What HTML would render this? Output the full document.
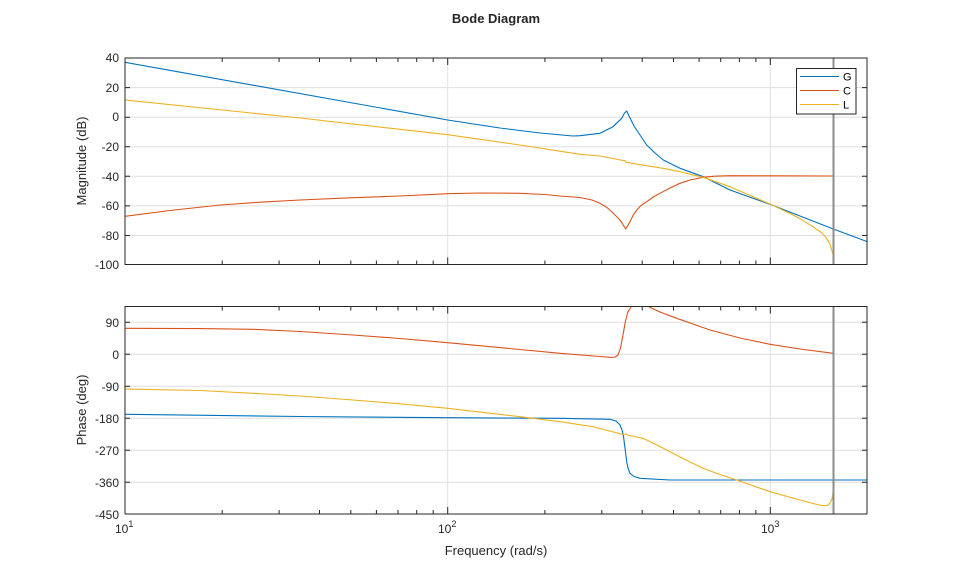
<!DOCTYPE html>
<html><head><meta charset="utf-8"><style>
html,body{margin:0;padding:0;background:#fff;}
svg{display:block;font-family:"Liberation Sans",Arial,sans-serif;}
</style></head><body>
<svg width="959" height="577" viewBox="0 0 959 577" xmlns="http://www.w3.org/2000/svg">
<defs>
<clipPath id="c1"><rect x="125" y="58" width="742" height="207"/></clipPath>
<clipPath id="c2"><rect x="125" y="306.5" width="742" height="207.5"/></clipPath>
</defs>
<rect width="959" height="577" fill="#fff"/>
<text x="496" y="23" font-size="13" font-weight="bold" text-anchor="middle" fill="#262626">Bode Diagram</text>

<g stroke="#dfdfdf" stroke-width="1">
<line x1="125" x2="867" y1="87.6" y2="87.6"/><line x1="125" x2="867" y1="117.2" y2="117.2"/>
<line x1="125" x2="867" y1="146.8" y2="146.8"/><line x1="125" x2="867" y1="176.3" y2="176.3"/>
<line x1="125" x2="867" y1="205.9" y2="205.9"/><line x1="125" x2="867" y1="235.5" y2="235.5"/>
<line x1="447.7" x2="447.7" y1="58" y2="265"/><line x1="770.3" x2="770.3" y1="58" y2="265"/>
<line x1="125" x2="867" y1="322.3" y2="322.3"/><line x1="125" x2="867" y1="354.3" y2="354.3"/>
<line x1="125" x2="867" y1="386.3" y2="386.3"/><line x1="125" x2="867" y1="418.3" y2="418.3"/>
<line x1="125" x2="867" y1="450.3" y2="450.3"/><line x1="125" x2="867" y1="482.3" y2="482.3"/>
<line x1="447.7" x2="447.7" y1="306.5" y2="514"/><line x1="770.3" x2="770.3" y1="306.5" y2="514"/>
</g>

<g clip-path="url(#c1)" fill="none" stroke-width="1.1" stroke-linejoin="round">
<polyline stroke="#0072BD" points="125,62.3 447.7,120 500,128 540,133 573,136 580,135.7 600,133.3 613,126.7 621.7,118.3 624.5,113 626.7,111 629,116 634,126 640,135 646.7,145 655,153 663.3,160 680,168.3 703.3,176.7 730,190 770,204.3 800,216 833.3,229 867.3,241.7"/>
<polyline stroke="#D95319" points="125,216.3 170,210.5 220,205 260,202.2 300,200 350,197.8 400,196 447.7,193.7 480,193 520,193.3 545,194.5 560,196 580,197.5 592,200 600,203.3 607,207.5 613,213 619,219 622,223 624.5,227 625.7,229 627,227 630,221.7 633,215.5 636.7,210 641,205.5 646.7,201.7 654,196.5 663,191.7 670,188 680,183.3 690,180 703,177.3 715,176.2 730,175.7 770,175.8 833.3,176"/>
<polyline stroke="#EDB120" points="125,100 300,118 447.7,134.7 520,145 580,154.3 600,156 623,160.5 625,160.6 626,162.3 663,168.3 680,171.7 703,177.3 730,186.7 770,204 796.7,216.7 813,226.7 822,233 826.7,238.3 830,244 831.7,250 834,257.5"/>
</g>
<line x1="833.5" x2="833.5" y1="58" y2="265" stroke="#8c8c8c" stroke-width="2"/>

<g clip-path="url(#c2)" fill="none" stroke-width="1.1" stroke-linejoin="round">
<polyline stroke="#0072BD" points="125,414.3 300,416.5 447.7,417.7 560,418.3 610,419.3 616,421 620,425 622,430 623.3,435 625,448 626.7,461.7 628,468 630,473.3 634,476.5 640,478.3 670,480 866.7,480"/>
<polyline stroke="#D95319" points="125,328.3 200,328.6 253,329.3 300,331.5 353,335 400,338.5 447.7,342.7 520,349.5 560,353.3 600,356.5 610,357.3 615,357.2 618,355 620.5,348 623,335 625.5,321 628,311.7 631,307 633,304 643,304 660,312 676.7,318.3 693,324 710,330 740,338 770,344.3 800,349 833.3,353.3"/>
<polyline stroke="#EDB120" points="125,389 200,390.5 253,393.3 300,396 353,400 400,403.8 447.7,408.3 520,416.7 560,421.7 593,426.7 623,434.5 626,434 628,435.2 643,438.3 656,444.5 670,451.7 686,460 703,468.3 720,474.5 736.7,480 770,491.7 800,500 815,504 823,505.7 827,505.5 830,503.3 832,499 832.7,495 833.5,488 834,481.7"/>
</g>
<line x1="833.5" x2="833.5" y1="306.5" y2="514" stroke="#8c8c8c" stroke-width="2"/>

<g fill="none" stroke="#262626" stroke-width="1">
<rect x="125" y="58" width="742" height="206.5"/>
<rect x="125" y="306.5" width="742" height="207.5"/>
</g>

<g stroke="#262626" stroke-width="1">
<path d="M125 58h5M125 87.6h5M125 117.2h5M125 146.8h5M125 176.3h5M125 205.9h5M125 235.5h5M125 264.5h5
M867 58h-5M867 87.6h-5M867 117.2h-5M867 146.8h-5M867 176.3h-5M867 205.9h-5M867 235.5h-5"/>
<path d="M125 322.3h5M125 354.3h5M125 386.3h5M125 418.3h5M125 450.3h5M125 482.3h5
M867 322.3h-5M867 354.3h-5M867 386.3h-5M867 418.3h-5M867 450.3h-5M867 482.3h-5"/>
<path d="M447.7 264.5v-7M770.3 264.5v-7M447.7 58v7M770.3 58v7M447.7 514v-7M770.3 514v-7M447.7 306.5v7M770.3 306.5v7
M222.2 264.5v-4M279.1 264.5v-4M319.5 264.5v-4M350.8 264.5v-4M376.4 264.5v-4M398 264.5v-4M416.7 264.5v-4M433.2 264.5v-4
M544.9 264.5v-4M601.8 264.5v-4M642.2 264.5v-4M673.5 264.5v-4M699.1 264.5v-4M720.7 264.5v-4M739.4 264.5v-4M755.9 264.5v-4M867 264.5v-4
M222.2 58v4M279.1 58v4M319.5 58v4M350.8 58v4M376.4 58v4M398 58v4M416.7 58v4M433.2 58v4
M544.9 58v4M601.8 58v4M642.2 58v4M673.5 58v4M699.1 58v4M720.7 58v4M739.4 58v4M755.9 58v4
M222.2 514v-4M279.1 514v-4M319.5 514v-4M350.8 514v-4M376.4 514v-4M398 514v-4M416.7 514v-4M433.2 514v-4
M544.9 514v-4M601.8 514v-4M642.2 514v-4M673.5 514v-4M699.1 514v-4M720.7 514v-4M739.4 514v-4M755.9 514v-4
M222.2 306.5v4M279.1 306.5v4M319.5 306.5v4M350.8 306.5v4M376.4 306.5v4M398 306.5v4M416.7 306.5v4M433.2 306.5v4
M544.9 306.5v4M601.8 306.5v4M642.2 306.5v4M673.5 306.5v4M699.1 306.5v4M720.7 306.5v4M739.4 306.5v4M755.9 306.5v4"/>
</g>

<g font-size="12" fill="#262626" text-anchor="end">
<text x="119" y="62">40</text><text x="119" y="92">20</text><text x="119" y="121">0</text>
<text x="119" y="151">-20</text><text x="119" y="181">-40</text><text x="119" y="210">-60</text>
<text x="119" y="240">-80</text><text x="119" y="269">-100</text>
<text x="119" y="327">90</text><text x="119" y="359">0</text><text x="119" y="391">-90</text>
<text x="119" y="423">-180</text><text x="119" y="455">-270</text><text x="119" y="487">-360</text>
<text x="119" y="519">-450</text>
</g>
<g font-size="12" fill="#262626">
<text x="115" y="533">10<tspan font-size="9" dy="-6">1</tspan></text>
<text x="438" y="533">10<tspan font-size="9" dy="-6">2</tspan></text>
<text x="761" y="533">10<tspan font-size="9" dy="-6">3</tspan></text>
</g>
<text x="496" y="555" font-size="13" fill="#262626" text-anchor="middle">Frequency  (rad/s)</text>
<text transform="translate(86,161) rotate(-90)" font-size="13" fill="#262626" text-anchor="middle">Magnitude (dB)</text>
<text transform="translate(86,410) rotate(-90)" font-size="13" fill="#262626" text-anchor="middle">Phase (deg)</text>

<rect x="796.5" y="68.5" width="59.5" height="45.5" fill="#fff" stroke="#262626" stroke-width="1"/>
<line x1="800" x2="839" y1="76.5" y2="76.5" stroke="#0072BD" stroke-width="1.1"/>
<line x1="800" x2="839" y1="90.5" y2="90.5" stroke="#D95319" stroke-width="1.1"/>
<line x1="800" x2="839" y1="104.5" y2="104.5" stroke="#EDB120" stroke-width="1.1"/>
<g font-size="11" fill="#000">
<text x="843" y="80.5">G</text><text x="843" y="94.5">C</text><text x="843" y="108.5">L</text>
</g>
</svg>
</body></html>
